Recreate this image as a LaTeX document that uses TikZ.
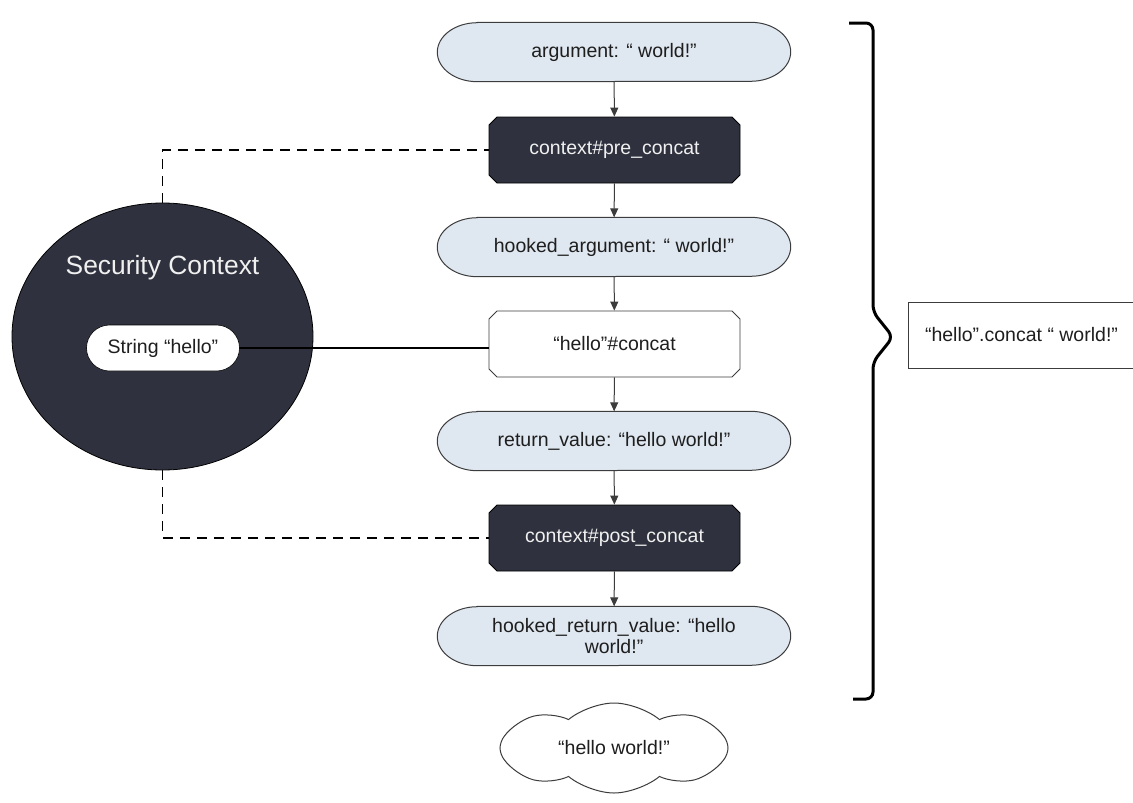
\documentclass[tikz,border=0pt]{standalone}
\usepackage{fontspec}
\setmainfont{Liberation Sans}
\usetikzlibrary{arrows.meta,shapes.misc,shapes.symbols,shapes.geometric,backgrounds}

\definecolor{darkfill}{HTML}{2F323E}
\definecolor{lightfill}{HTML}{DFE7F0}
\definecolor{edgegray}{HTML}{3C3C3C}
\definecolor{ink}{HTML}{1E1E1E}

% capsule outline with elliptical end caps, drawn behind a named node
\newcommand\capsuleshape[1]{%
  \path[capsulefill]
    ([xshift=40pt]#1.north west) -- ([xshift=-40pt]#1.north east)
    arc[start angle=90,end angle=-90,x radius=40pt,y radius=29.5pt]
    -- ([xshift=40pt]#1.south west)
    arc[start angle=270,end angle=90,x radius=40pt,y radius=29.5pt]
    -- cycle;}

\begin{document}
\begin{tikzpicture}[x=1pt,y=1pt,
  every node/.style={font=\fontsize{19.5}{21}\selectfont, text=ink, inner sep=0pt},
  capsule/.style={minimum width=353pt, minimum height=59pt, align=center},
  capsulefill/.style={fill=lightfill, draw=edgegray, line width=1pt},
  hookbox/.style={chamfered rectangle, chamfered rectangle angle=45,
    chamfered rectangle xsep=4pt, chamfered rectangle ysep=4pt,
    minimum width=251pt, minimum height=66pt, fill=darkfill, draw=black,
    line width=0.8pt, text=white!94!black},
  callbox/.style={hookbox, fill=white, draw=edgegray, text=ink},
  flow/.style={draw=edgegray, line width=1pt, -{Triangle[length=9pt,width=8pt]}},
  dashlink/.style={draw=black, line width=1.5pt, dash pattern=on 10pt off 7pt},
  bracket/.style={draw=black, line width=3pt, rounded corners=7pt}
]
\useasboundingbox (0,0) rectangle (1133,-803);

% main call chain
\node[capsule] (arg) at (614,-52) {argument: “ world!”};
\node[hookbox] (pre) at (614.5,-150) {context\#pre\_concat};
\node[capsule] (harg) at (614,-247) {hooked\_argument: “ world!”};
\node[callbox] (concat) at (614.5,-344) {“hello”\#concat};
\node[capsule] (ret) at (614,-441) {return\_value: “hello world!”};
\node[hookbox] (post) at (614.5,-538) {context\#post\_concat};
\node[capsule] (hret) at (614,-636) {hooked\_return\_value: “hello\\world!”};
\node[cloud, cloud puffs=8, cloud puff arc=80, cloud ignores aspect,
  minimum width=228pt, minimum height=90pt, draw=edgegray, line width=1pt,
  fill=white] (result) at (614,-748) {“hello world!”};

\begin{scope}[on background layer]
  \capsuleshape{arg}
  \capsuleshape{harg}
  \capsuleshape{ret}
  \capsuleshape{hret}
\end{scope}

\draw[flow] (arg) -- (pre);
\draw[flow] (pre) -- (harg);
\draw[flow] (harg) -- (concat);
\draw[flow] (concat) -- (ret);
\draw[flow] (ret) -- (post);
\draw[flow] (post) -- (hret);

% security context
\node[ellipse, minimum width=301pt, minimum height=267pt, fill=darkfill,
  draw=black, line width=0.8pt] (sc) at (162.5,-336.5) {};
\node[font=\fontsize{26.4}{30}\selectfont, text=white!94!black] (sctitle)
  at (162.5,-268) {Security Context};
\node[rectangle, rounded corners=23pt, fill=white, draw=black, line width=0.6pt,
  minimum width=153pt, minimum height=46pt] (str) at (163,-348) {String “hello”};

\draw[line width=2pt, draw=black] (str.east) -- (str.east -| concat.west);
\draw[dashlink] (sc.north) |- (pre.west);
\draw[dashlink] (sc.south) |- (post.west);

% bracket grouping the chain, and the source expression
\draw[bracket] (849,-23) -- (873,-23) -- (873,-312) -- (893,-337)
  -- (873,-362) -- (873,-699) -- (853,-699);
\node[draw=edgegray, line width=1pt, fill=white, minimum width=227pt,
  minimum height=66pt] (expr) at (1021.5,-335) {“hello”.concat “ world!”};
\end{tikzpicture}
\end{document}
